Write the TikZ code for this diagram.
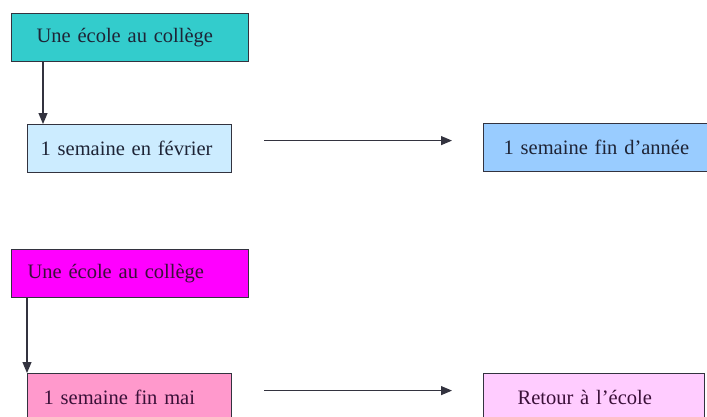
\documentclass[tikz,border=0pt]{standalone}
\usepackage{fontspec}
\setmainfont{Liberation Serif}
\usetikzlibrary{arrows.meta}
\definecolor{teal1}{HTML}{33CCCC}
\definecolor{lblue}{HTML}{CCECFF}
\definecolor{mblue}{HTML}{99CCFF}
\definecolor{magen}{HTML}{FF00FF}
\definecolor{pink1}{HTML}{FF99CC}
\definecolor{lpink}{HTML}{FFCCFF}
\definecolor{txt}{HTML}{1E2436}
\definecolor{txtp}{HTML}{3A1038}
\definecolor{edge}{HTML}{33333F}
\tikzset{
  boxnode/.style={draw=edge, line width=1.2pt, anchor=north west, inner ysep=0pt,
    minimum height=48pt, align=left, text=txt,
    font=\fontsize{20.5}{24}\selectfont},
  arr/.style={draw=edge, line width=1.2pt, -{Triangle[length=11pt,width=9pt]}}
}
\begin{document}
\begin{tikzpicture}[x=1pt,y=-1pt]
\clip (0,0) rectangle (707,416);
\fill[white] (0,0) rectangle (707,416);
% top group
\node[boxnode, fill=teal1, inner xsep=25pt, text width=187pt] (b1) at (11,13) {Une école au collège};
\node[boxnode, fill=lblue, inner xsep=13pt, text width=178pt] (b2) at (27,124) {1 semaine en février};
\node[boxnode, fill=mblue, inner xsep=20pt, text width=200pt] (b3) at (483,123) {1 semaine fin d'année};
% bottom group
\node[boxnode, fill=magen, inner xsep=16pt, text width=205pt, text=txtp] (b4) at (11,249) {Une école au collège};
\node[boxnode, fill=pink1, inner xsep=16pt, text width=172pt, text=txtp] (b5) at (27,373) {1 semaine fin mai};
\node[boxnode, fill=lpink, inner xsep=34pt, text width=153pt, text=txtp] (b6) at (483,373) {Retour à l'école};
% connectors
\coordinate (c1) at (43,0);
\coordinate (c2) at (27,0);
\draw[arr] (b1.south -| c1) -- (b2.north -| c1);
\draw[arr] (b4.south -| c2) -- (b5.north -| c2);
\draw[arr, shorten <=32pt, shorten >=31pt] ([yshift=8pt]b2.east) -- ([yshift=8pt]b2.east -| b3.west);
\draw[arr, shorten <=32pt, shorten >=31pt] ([yshift=7pt]b5.east) -- ([yshift=7pt]b5.east -| b6.west);
\end{tikzpicture}
\end{document}
